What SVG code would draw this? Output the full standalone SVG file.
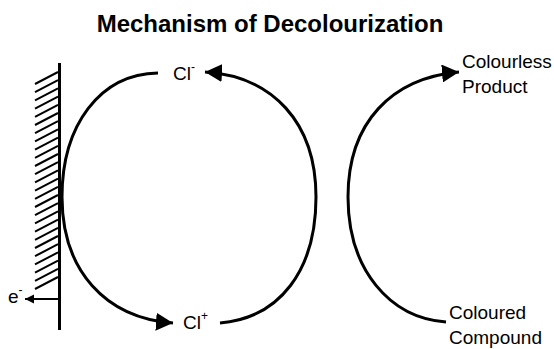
<svg xmlns="http://www.w3.org/2000/svg" width="554" height="349" viewBox="0 0 554 349">
<defs>
<style>
.lbl{font-family:"Liberation Sans",Arial,sans-serif;font-size:19px;fill:#000}
.sup{font-size:12px}
.title{font-family:"Liberation Sans",Arial,sans-serif;font-size:24px;font-weight:bold;fill:#000}
.conn{fill:none;stroke:#000;stroke-width:3}
.thin{fill:none;stroke:#000;stroke-width:2}
</style>
<marker id="ah" markerUnits="userSpaceOnUse" markerWidth="18" markerHeight="18" viewBox="0 0 18 18" refX="17" refY="9" orient="auto">
<path d="M0,0 L17,9 L0,18 z" fill="#000"/>
</marker>
<marker id="ahs" markerUnits="userSpaceOnUse" markerWidth="10" markerHeight="10" viewBox="0 0 10 10" refX="9" refY="5" orient="auto">
<path d="M0,0.5 L9,5 L0,9.5 z" fill="#000"/>
</marker>
</defs>
<rect width="554" height="349" fill="#fff"/>
<g id="title"><text class="title" x="270" y="32" text-anchor="middle">Mechanism of Decolourization</text></g>
<g id="electrode">
<line x1="59.5" y1="63" x2="59.5" y2="330" stroke="#000" stroke-width="3"/>
<path class="thin" d="M35,84 L58,72 M35,92.2 L58,80.2 M35,100.4 L58,88.4 M35,108.6 L58,96.6 M35,116.8 L58,104.8 M35,125 L58,113 M35,133.2 L58,121.2 M35,141.4 L58,129.4 M35,149.6 L58,137.6 M35,157.8 L58,145.8 M35,166 L58,154 M35,174.2 L58,162.2 M35,182.4 L58,170.4 M35,190.6 L58,178.6 M35,198.8 L58,186.8 M35,207 L58,195 M35,215.2 L58,203.2 M35,223.4 L58,211.4 M35,231.6 L58,219.6 M35,239.8 L58,227.8 M35,248 L58,236 M35,256.2 L58,244.2 M35,264.4 L58,252.4 M35,272.6 L58,260.6 M35,280.8 L58,268.8 M35,289 L58,277"/>
</g>
<g id="e-label"><text class="lbl" x="8" y="303">e<tspan class="sup" dy="-9">-</tspan></text></g>
<g id="cl-minus"><text class="lbl" x="173" y="80">Cl<tspan class="sup" dy="-9">-</tspan></text></g>
<g id="cl-plus"><text class="lbl" x="183" y="329">Cl<tspan class="sup" dy="-9">+</tspan></text></g>
<g id="colourless"><text class="lbl" x="462" y="68">Colourless</text><text class="lbl" x="462" y="93">Product</text></g>
<g id="coloured"><text class="lbl" x="449" y="319">Coloured</text><text class="lbl" x="449" y="344">Compound</text></g>
<g id="connectors">
<path class="thin" d="M58,299 L25,299" marker-end="url(#ahs)"/>
<path class="conn" d="M158,73 C100,74 62,125 62,197 C62,270 105,318 173,323" marker-end="url(#ah)"/>
<path class="conn" d="M220,323 C280,318 316,270 316,197 C316,122 272,76 205,72" marker-end="url(#ah)"/>
<path class="conn" d="M446,322 C390,318 348,270 348,197 C348,122 392,78 459,72" marker-end="url(#ah)"/>
</g>
</svg>
